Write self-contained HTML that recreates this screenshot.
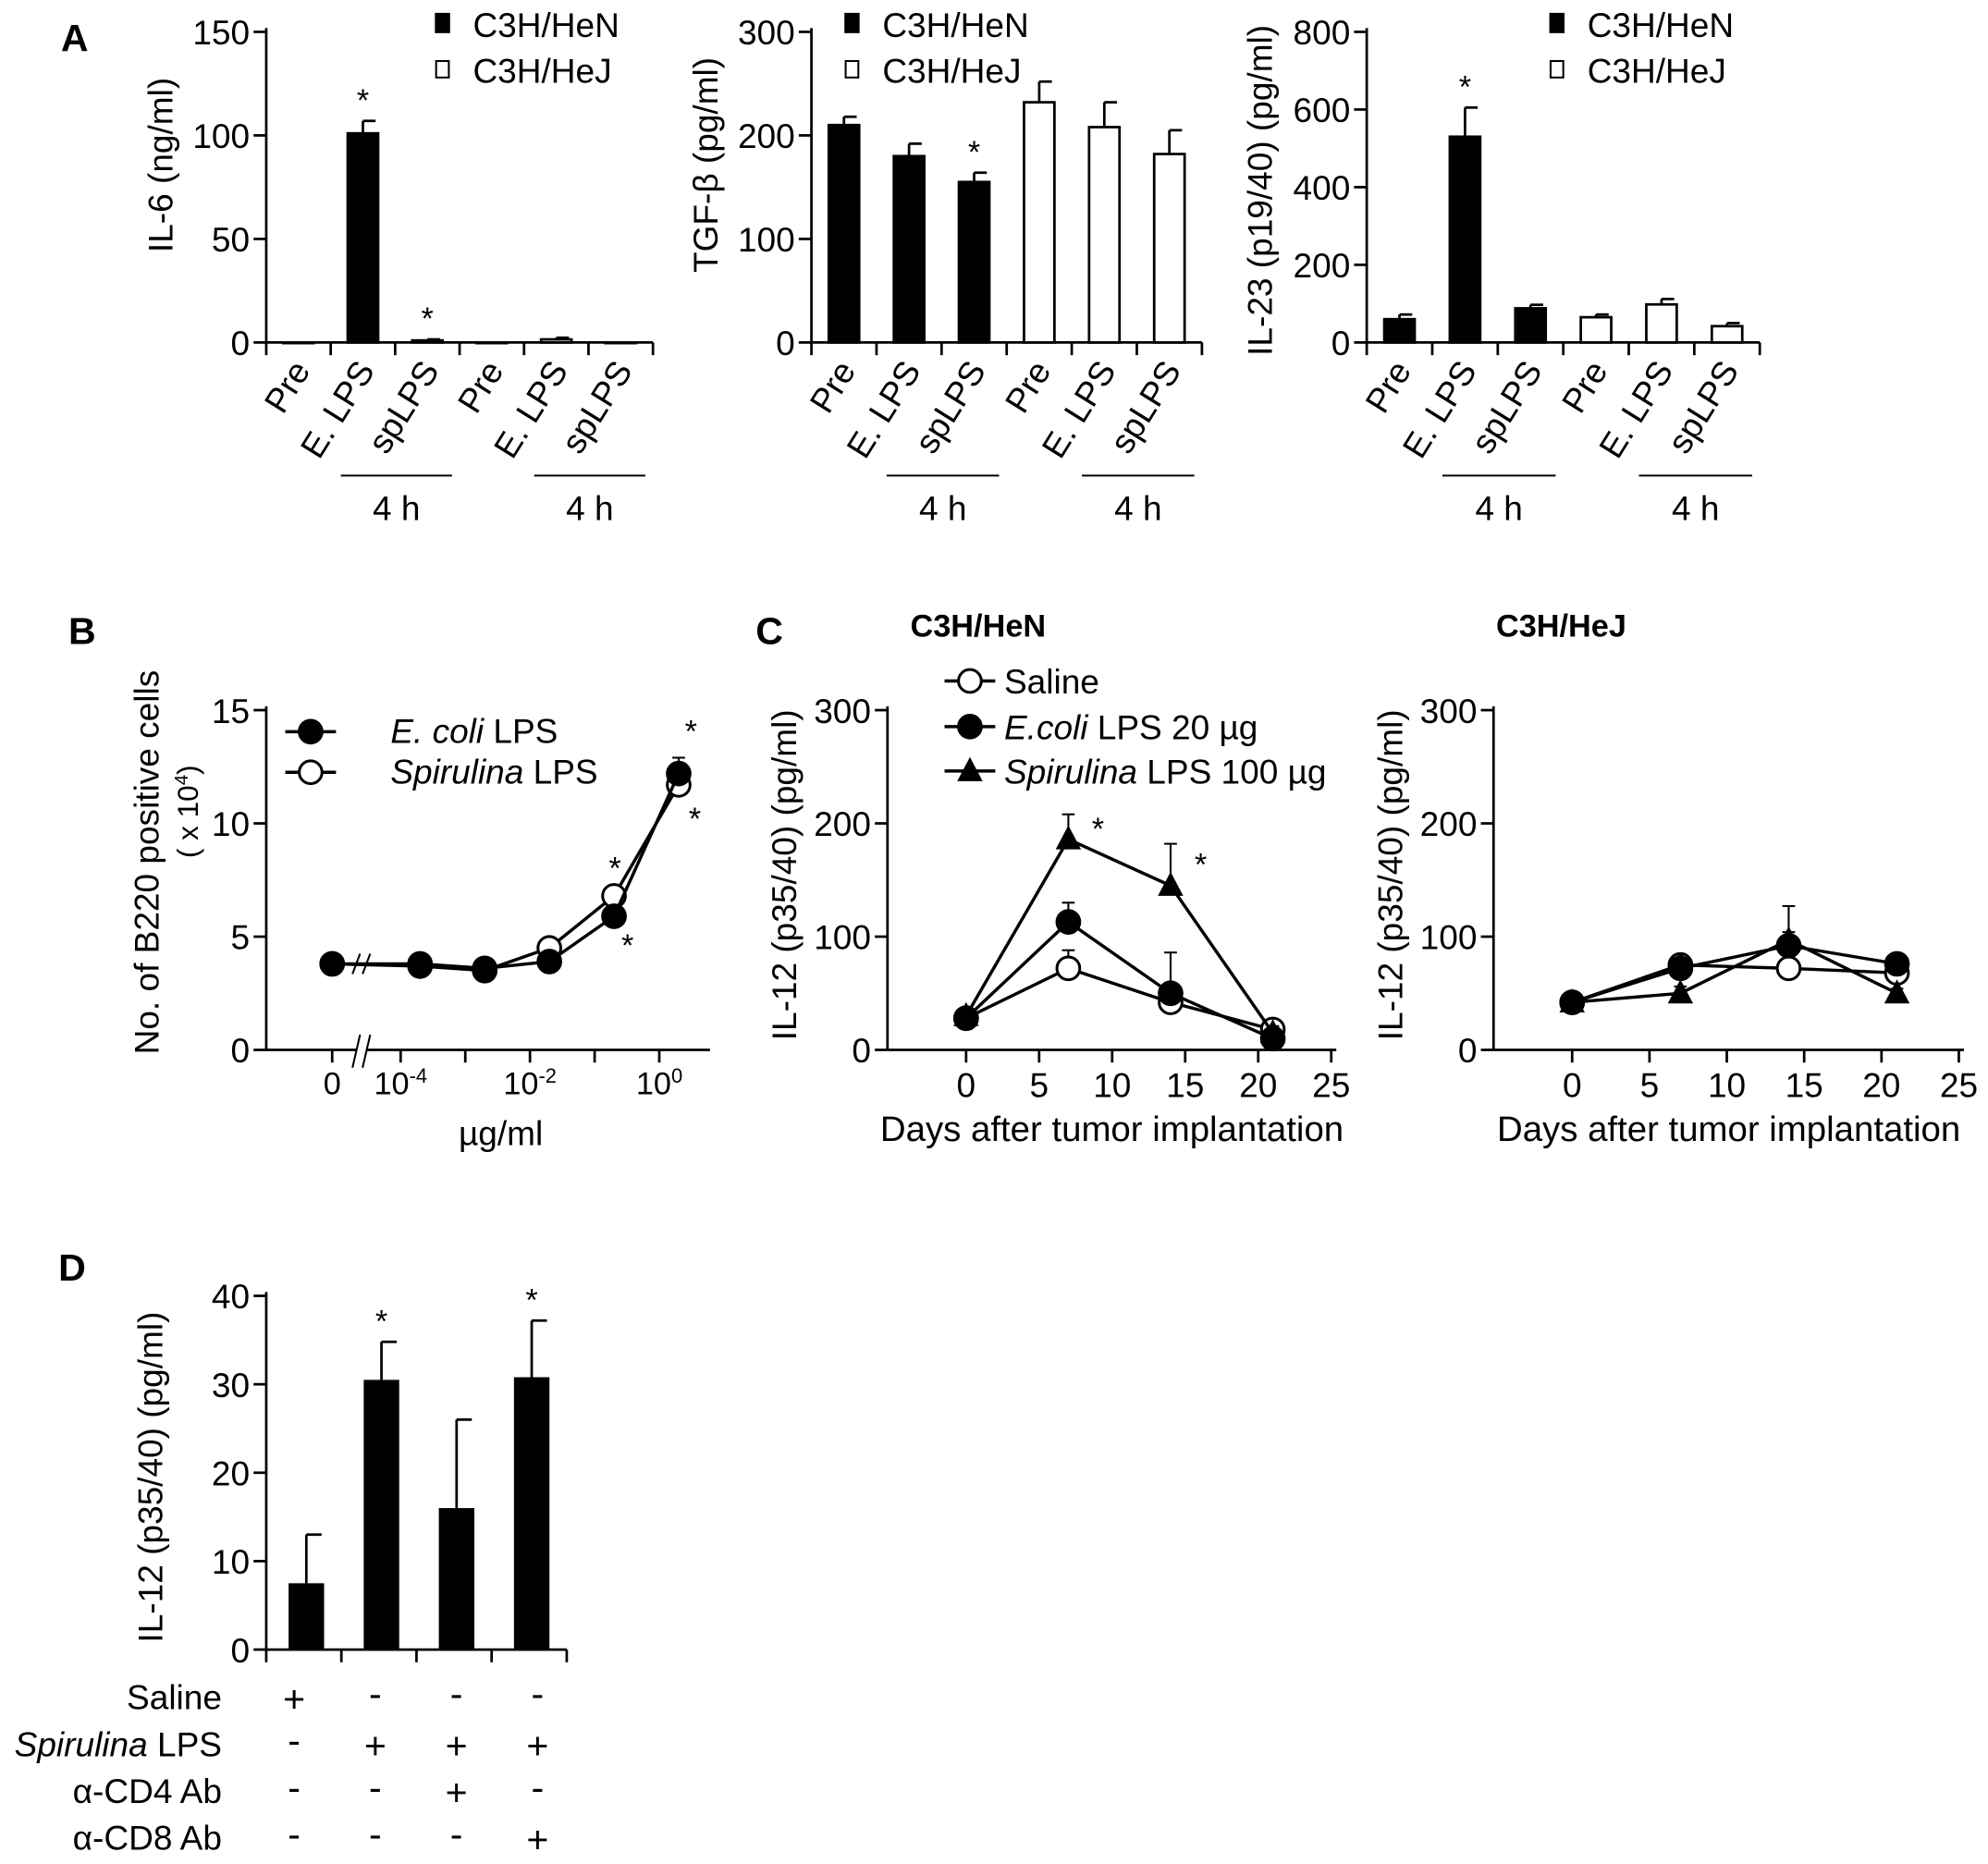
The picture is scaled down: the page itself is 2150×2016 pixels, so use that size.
<!DOCTYPE html>
<html><head><meta charset="utf-8"><style>
html,body{margin:0;padding:0;background:#fff}
svg{display:block}
text{font-family:"Liberation Sans",sans-serif;fill:#000}
</style></head><body>
<svg id="fig" width="2150" height="2016" viewBox="0 0 1568 1470" xmlns="http://www.w3.org/2000/svg">
<text x="48" y="40" font-size="30" font-weight="bold">A</text>
<text x="54" y="508" font-size="30" font-weight="bold">B</text>
<text x="596" y="508" font-size="30" font-weight="bold">C</text>
<text x="46" y="1010" font-size="30" font-weight="bold">D</text>
</svg>
<script>
// ---- Panel A data ----
const aCats = ["Pre","E. LPS","spLPS","Pre","E. LPS","spLPS"];
const il6Vals = [0,101,1,0,1.5,0];
const il6Err = [0,6,0.5,0,0.8,0];
const il6Ticks = [0,50,100,150];
const tgfVals = [210,180,155,232,208,182];
const tgfErr = [8,12,9,20,24,23];
const tgfTicks = [0,100,200,300];
const il23Vals = [60,530,88,65,98,42];
const il23Err = [12,75,9,7,14,8];
const il23Ticks = [0,200,400,600,800];
const aStars1 = [false,true,true,false,false,false];
const aStars2 = [false,false,true,false,false,false];
const aStars3 = [false,true,false,false,false,false];
// ---- Panel B data ----
const bDoseLog = [null,-3.7,-2.7,-1.7,-0.7,0.3];
const bEcoli = [3.8,3.8,3.6,3.9,5.9,12.2];
const bEcoliErr = [0.2,0.2,0.2,0.2,0.3,0.7];
const bSpir = [3.8,3.7,3.5,4.5,6.8,11.7];
const bSpirErr = [0.2,0.2,0.2,0.2,0.3,0.4];
const bTicks = [0,5,10,15];
// ---- Panel C data ----
const cDays = [0,7,14,21];
const cXTicks = [0,5,10,15,20,25];
const cYTicks = [0,100,200,300];
const heNSaline = [28,72,42,18];
const heNSalineErr = [5,16,6,8];
const heNEcoli = [28,113,50,10];
const heNEcoliErr = [5,17,36,4];
const heNSpir = [30,186,145,15];
const heNSpirErr = [5,22,37,6];
const heJSaline = [42,75,72,68];
const heJSalineErr = [3,8,6,4];
const heJEcoli = [42,72,92,76];
const heJEcoliErr = [3,12,12,5];
const heJSpir = [42,50,97,50];
const heJSpirErr = [3,6,30,4];
// ---- Panel D data ----
const dVals = [7.5,30.5,16,30.8];
const dErr = [5.5,4.3,10,6.4];
const dTicks = [0,10,20,30,40];
const dStars = [false,true,false,true];
const dRows = ["Saline","Spirulina LPS","α-CD4 Ab","α-CD8 Ab"];
const dSigns = [["+","-","-","-"],["-","+","+","+"],["-","-","+","-"],["-","-","-","+"]];

const FS = 27;
const svg = document.getElementById('fig');
const NS = "http://www.w3.org/2000/svg";
function mk(tag, attrs, name, parent){
  const el = document.createElementNS(NS, tag);
  for (const k in attrs) el.setAttribute(k, attrs[k]);
  
  
  (parent||svg).appendChild(el);
  return el;
}
function txt(x,y,s,size,name,extra){
  const t = mk('text', Object.assign({x:x,y:y,'font-size':size}, extra||{}), name);
  t.textContent = s; return t;
}
function line(x1,y1,x2,y2,name,w){ return mk('line',{x1,y1,x2,y2,stroke:'#000','stroke-width':w||2},name); }
function yAxis(x, yTop, yBot, ticks, max, name){
  line(x,yTop-3,x,yBot,name+'-y-axis');
  ticks.forEach(v=>{
    const y = yBot - v/max*(yBot-yTop);
    line(x-10,y,x,y,name+'-y-tick');
    txt(x-13,y+10,String(v),FS,name+'-y-tick-label',{'text-anchor':'end'});
  });
}
function star(x,y,name){ txt(x,y,'*',25,name,{'text-anchor':'middle'}); }

// ---- Panel A ----
function barPanel(ax, right, vals, errs, ticks, max, title, titleX, titleY, stars, name, legX){
  const yTop=25, yBot=270, cw=(right-ax)/6;
  const ys = v => yBot - v/max*(yBot-yTop);
  yAxis(ax,yTop,yBot,ticks,max,name);
  line(ax,yBot,right,yBot,name+'-x-axis');
  for(let i=0;i<=6;i++){ line(ax+i*cw,yBot,ax+i*cw,yBot+10,name+'-x-tick'); }
  vals.forEach((v,i)=>{
    const cx = ax + cw*(i+0.5), bw=24, filled=i<3;
    const y = ys(v), ye = ys(v+errs[i]);
    if(errs[i]>0){ line(cx,ye,cx,y,name+'-error-bar'); line(cx,ye,cx+10,ye,name+'-error-cap'); }
    mk('rect',{x:cx-bw/2,y:y,width:bw,height:Math.max(yBot-y,0.5),fill:filled?'#000':'#fff',stroke:'#000','stroke-width':2},name+'-bar-'+i);
    if(stars[i]) star(cx,ye-8,name+'-significance-star');
    txt(cx+10,yBot+22,aCats[i],FS,name+'-x-label',{'text-anchor':'end',transform:`rotate(-58 ${cx+10} ${yBot+22})`});
  });
  [[1,2],[4,5]].forEach((g,k)=>{
    const x1=ax+cw*g[0]+8, x2=ax+cw*(g[1]+1)-6;
    line(x1,375,x2,375,name+'-time-bracket',1.5);
    txt((x1+x2)/2,410,'4 h',FS,name+'-time-label',{'text-anchor':'middle'});
  });
  txt(titleX,titleY,title,FS,name+'-y-title',{'text-anchor':'middle',transform:`rotate(-90 ${titleX} ${titleY})`});
  mk('rect',{x:legX,y:10,width:12,height:16,fill:'#000'},name+'-legend-swatch-hen');
  txt(legX+30,29,'C3H/HeN',FS,name+'-legend-hen');
  mk('rect',{x:legX+1,y:48,width:10,height:13,fill:'#fff',stroke:'#000','stroke-width':1.5},name+'-legend-swatch-hej');
  txt(legX+30,65,'C3H/HeJ',FS,name+'-legend-hej');
}
barPanel(210,515,il6Vals,il6Err,il6Ticks,150,'IL-6 (ng/ml)',136,130,aStars1,'il6',343);
barPanel(640,948,tgfVals,tgfErr,tgfTicks,300,'TGF-β (pg/ml)',566,130,aStars2,'tgf',666);
barPanel(1078,1388,il23Vals,il23Err,il23Ticks,800,'IL-23 (p19/40) (pg/ml)',1003,150,aStars3,'il23',1222);

// ---- markers ----
function marker(type,x,y,name){
  if(type==='tri') return mk('polygon',{points:`${x},${y-11} ${x-10},${y+8} ${x+10},${y+8}`,fill:'#000'},name);
  return mk('circle',{cx:x,cy:y,r:9,fill:type==='filled'?'#000':'#fff',stroke:'#000','stroke-width':2.2},name);
}
function series(xs, ys, yerr, yfn, type, name){
  const pts = xs.map((x,i)=>[x, yfn(ys[i])]);
  mk('polyline',{points:pts.map(p=>p.join(',')).join(' '),fill:'none',stroke:'#000','stroke-width':2.5},name+'-line');
  pts.forEach((p,i)=>{
    const ye = yfn(ys[i]+yerr[i]);
    line(p[0],ye,p[0],p[1],name+'-error-bar',1.5); line(p[0]-5,ye,p[0]+5,ye,name+'-error-cap',1.5);
  });
  pts.forEach(p=>marker(type,p[0],p[1],name+'-point'));
}

// ---- Panel B ----
(function(){
  const ax=210,yTop=560,yBot=828,max=15;
  const ys=v=>yBot-v/max*(yBot-yTop);
  const xs=l=>l===null?262:316+(l+4)*51;
  yAxis(ax,yTop,yBot,bTicks,max,'b220');
  line(ax,yBot,281,yBot,'b220-x-axis'); line(289,yBot,560,yBot,'b220-x-axis');
  mk('path',{d:`M278,${yBot+14} L284,${yBot-12} M286,${yBot+14} L292,${yBot-12}`,stroke:'#000','stroke-width':1.5,fill:'none'},'b220-axis-break');
  mk('path',{d:`M278,${ys(3.8)+8} L284,${ys(3.8)-8} M286,${ys(3.8)+8} L292,${ys(3.8)-8}`,stroke:'#000','stroke-width':1.5,fill:'none'},'b220-line-break');
  [[262,'0'],[316,'10','-4'],[418,'10','-2'],[520,'10','0']].forEach(t=>{
    line(t[0],yBot,t[0],yBot+10,'b220-x-tick');
    const el=txt(t[0],863,t[1],25,'b220-x-tick-label',{'text-anchor':'middle'});
    if(t[2]){ const s=document.createElementNS(NS,'tspan'); s.setAttribute('font-size','16'); s.setAttribute('dy','-9'); s.textContent=t[2]; el.appendChild(s);}
  });
  [367,469].forEach(x=>line(x,yBot,x,yBot+10,'b220-x-minor-tick'));
  const xsArr=bDoseLog.map(xs);
  series(xsArr,bSpir,bSpirErr,ys,'open','b220-spirulina');
  series(xsArr,bEcoli,bEcoliErr,ys,'filled','b220-ecoli');
  star(485,693,'b220-star'); star(495,754,'b220-star'); star(545,585,'b220-star'); star(548,654,'b220-star');
  line(225,577,265,577,'b220-legend-line-ecoli',2.5); marker('filled',245,577,'b220-legend-marker-ecoli');
  line(225,609,265,609,'b220-legend-line-spir',2.5); marker('open',245,609,'b220-legend-marker-spir');
  const l1=txt(308,586,'',FS,'b220-legend-ecoli'); l1.innerHTML='<tspan font-style="italic">E. coli</tspan> LPS';
  const l2=txt(308,618,'',FS,'b220-legend-spir'); l2.innerHTML='<tspan font-style="italic">Spirulina</tspan> LPS';
  txt(125,680,'No. of B220 positive cells',FS,'b220-y-title',{'text-anchor':'middle',transform:'rotate(-90 125 680)'});
  const t2=txt(156,640,'',23,'b220-y-title-unit',{'text-anchor':'middle',transform:'rotate(-90 156 640)'});
  t2.innerHTML='( x 10<tspan font-size="15" dy="-8">4</tspan><tspan dy="8">)</tspan>';
  txt(395,903,'µg/ml',FS,'b220-x-title',{'text-anchor':'middle'});
})();

// ---- Panel C ----
function cPanel(ax,x0,x25,sal,salE,eco,ecoE,spi,spiE,title,titleX,name){
  const yTop=560,yBot=828,max=300;
  const ys=v=>yBot-v/max*(yBot-yTop);
  const xs=d=>x0+d/25*(x25-x0);
  yAxis(ax,yTop,yBot,cYTicks,max,name);
  line(ax,yBot,x25+4,yBot,name+'-x-axis');
  cXTicks.forEach(d=>{ line(xs(d),yBot,xs(d),yBot+10,name+'-x-tick'); txt(xs(d),865,String(d),FS,name+'-x-tick-label',{'text-anchor':'middle'}); });
  const px=cDays.map(xs);
  series(px,sal,salE,ys,'open',name+'-saline');
  series(px,eco,ecoE,ys,'filled',name+'-ecoli');
  series(px,spi,spiE,ys,'tri',name+'-spirulina');
  txt((x0+x25)/2-29,900,'Days after tumor implantation',28,name+'-x-title',{'text-anchor':'middle'});
  const tx=ax-72, ty=690;
  txt(tx,ty,'IL-12 (p35/40)  (pg/ml)',FS,name+'-y-title',{'text-anchor':'middle',transform:`rotate(-90 ${tx} ${ty})`});
  txt(titleX,502,title,25,name+'-title',{'font-weight':'bold'});
}
cPanel(700,762,1050,heNSaline,heNSalineErr,heNEcoli,heNEcoliErr,heNSpir,heNSpirErr,'C3H/HeN',718,'il12-hen');
cPanel(1178,1240,1545,heJSaline,heJSalineErr,heJEcoli,heJEcoliErr,heJSpir,heJSpirErr,'C3H/HeJ',1180,'il12-hej');
star(866,662,'il12-hen-star'); star(947,690,'il12-hen-star');
[[537,'open','Saline'],[573,'filled','E.coli|LPS 20 µg'],[608,'tri','Spirulina|LPS 100 µg']].forEach((r,i)=>{
  line(745,r[0],785,r[0],'il12-legend-line',2.5); marker(r[1],765,r[0],'il12-legend-marker');
  const t=txt(792,r[0]+10,'',FS,'il12-legend-label');
  const p=r[2].split('|');
  t.innerHTML = p.length>1 ? `<tspan font-style="italic">${p[0]}</tspan> ${p[1]}` : p[0];
});

// ---- Panel D ----
(function(){
  const ax=210,yTop=1022,yBot=1301,max=40,right=447,cw=(right-ax)/4;
  const ys=v=>yBot-v/max*(yBot-yTop);
  yAxis(ax,yTop,yBot,dTicks,max,'il12-d');
  line(ax,yBot,right,yBot,'il12-d-x-axis');
  for(let i=0;i<=4;i++) line(ax+i*cw,yBot,ax+i*cw,yBot+10,'il12-d-x-tick');
  dVals.forEach((v,i)=>{
    const cx=ax+cw*(i+0.5)+2, y=ys(v), ye=ys(v+dErr[i]);
    line(cx,ye,cx,y,'il12-d-error-bar'); line(cx,ye,cx+12,ye,'il12-d-error-cap');
    mk('rect',{x:cx-14,y:y,width:28,height:yBot-y,fill:'#000'},'il12-d-bar-'+i);
    if(dStars[i]) star(cx,ye-8,'il12-d-star');
  });
  txt(128,1165,'IL-12 (p35/40)  (pg/ml)',FS,'il12-d-y-title',{'text-anchor':'middle',transform:'rotate(-90 128 1165)'});
  dRows.forEach((r,j)=>{
    const y=1348+j*37;
    const t=txt(175,y,'',FS,'treatment-row-label',{'text-anchor':'end'});
    t.innerHTML = r==='Spirulina LPS' ? '<tspan font-style="italic">Spirulina</tspan> LPS' : r;
    dSigns[j].forEach((s,i)=>txt(232+i*64,y+(s==='+'?2:-2),s,30,'treatment-sign',{'text-anchor':'middle'}));
  });
})();
</script>
</body></html>
